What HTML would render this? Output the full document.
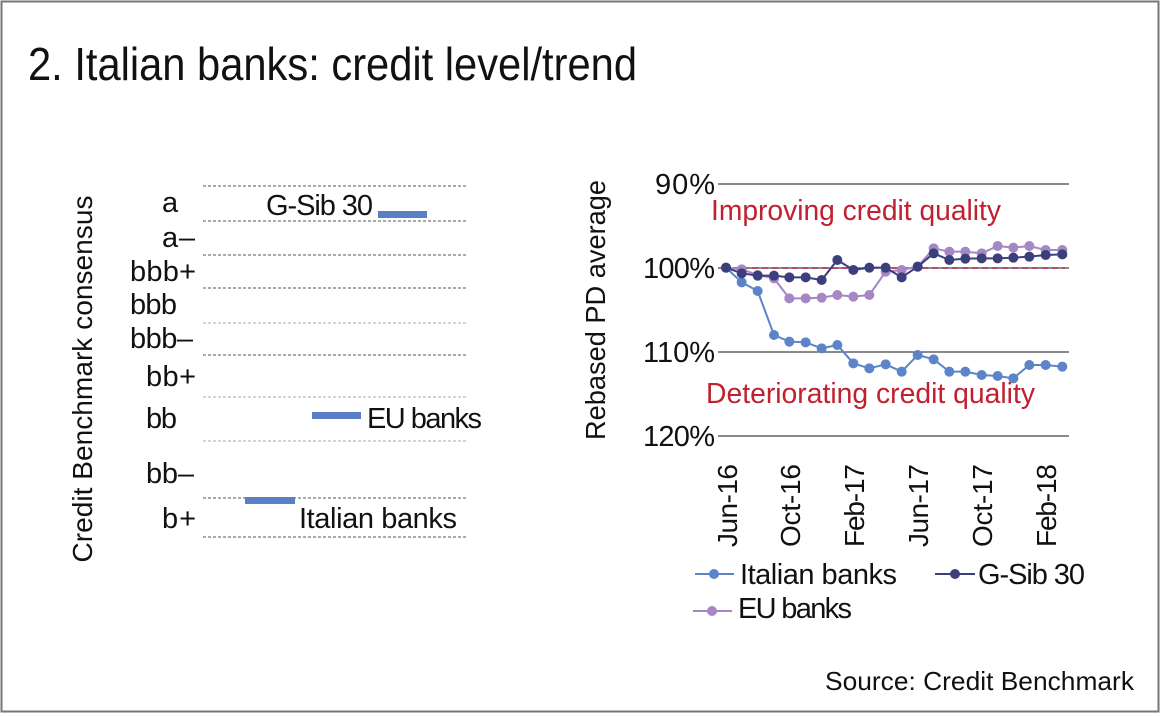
<!DOCTYPE html>
<html><head><meta charset="utf-8"><style>
html,body{margin:0;padding:0;background:#fff}
svg{display:block;font-family:"Liberation Sans",sans-serif}
</style></head><body>
<svg width="1160" height="716" viewBox="0 0 1160 716">
<rect x="1.5" y="1.5" width="1157" height="710" fill="#fff" stroke="#777" stroke-width="2"/>
<text x="28" y="80" font-size="46" fill="#111" textLength="609" lengthAdjust="spacingAndGlyphs">2. Italian banks: credit level/trend</text>

<g stroke="#555" stroke-width="1" stroke-dasharray="3,2">
<line x1="203" y1="186" x2="468" y2="186"/>
<line x1="203" y1="221" x2="468" y2="221"/>
<line x1="203" y1="255" x2="468" y2="255"/>
<line x1="203" y1="288" x2="468" y2="288"/>
<line x1="203" y1="323" x2="468" y2="323" stroke="#aaa"/>
<line x1="203" y1="355" x2="468" y2="355"/>
<line x1="203" y1="397" x2="468" y2="397" stroke="#aaa"/>
<line x1="203" y1="441" x2="468" y2="441" stroke="#aaa"/>
<line x1="203" y1="498" x2="468" y2="498"/>
<line x1="203" y1="537" x2="468" y2="537"/>
</g>
<g font-size="29" fill="#111" lengthAdjust="spacingAndGlyphs">
<text x="162" y="212" textLength="15">a</text>
<text x="162" y="247" textLength="33">a–</text>
<text x="130" y="281" textLength="66">bbb+</text>
<text x="130" y="314" textLength="47">bbb</text>
<text x="130" y="348" textLength="63">bbb–</text>
<text x="146" y="386" textLength="50">bb+</text>
<text x="146" y="428" textLength="31">bb</text>
<text x="146" y="483" textLength="48">bb–</text>
<text x="162" y="528" textLength="34">b+</text>
</g>
<text transform="translate(92,379) rotate(-90)" font-size="28" fill="#111" text-anchor="middle" textLength="367" lengthAdjust="spacingAndGlyphs">Credit Benchmark consensus</text>
<rect x="378" y="211" width="49" height="7" fill="#5b7fc4"/>
<rect x="312" y="412" width="49" height="7" fill="#5b7fc4"/>
<rect x="245" y="497" width="50" height="7" fill="#5b7fc4"/>
<g font-size="29" fill="#111" lengthAdjust="spacingAndGlyphs">
<text x="266" y="215" textLength="107">G-Sib 30</text>
<text x="367" y="428" textLength="115">EU banks</text>
<text x="299" y="528" textLength="158">Italian banks</text>
</g>

<g stroke="#444" stroke-width="1.3">
<line x1="718" y1="184" x2="1069" y2="184"/>
<line x1="718" y1="268" x2="1069" y2="268"/>
<line x1="718" y1="352" x2="1069" y2="352"/>
<line x1="718" y1="436" x2="1069" y2="436"/>
</g>
<line x1="722" y1="268" x2="1065" y2="268" stroke="#b01f4a" stroke-width="1.5" stroke-dasharray="6,4"/>
<g font-size="29" fill="#111" lengthAdjust="spacingAndGlyphs">
<text x="655" y="194" textLength="60">90%</text>
<text x="643" y="278" textLength="72">100%</text>
<text x="643" y="362" textLength="72">110%</text>
<text x="643" y="446" textLength="72">120%</text>
</g>
<text transform="translate(605,310) rotate(-90)" font-size="28" fill="#111" text-anchor="middle" textLength="260" lengthAdjust="spacingAndGlyphs">Rebased PD average</text>
<text x="711" y="220" font-size="29" fill="#c0202f" textLength="290" lengthAdjust="spacingAndGlyphs">Improving credit quality</text>
<text x="706" y="403" font-size="29" fill="#c0202f" textLength="329" lengthAdjust="spacingAndGlyphs">Deteriorating credit quality</text>

<g transform="translate(690,160) scale(0.33333)" fill="none" stroke-width="6">
<polyline stroke="#5b85c8" points="108,323 155,367 203,393 252,525 298,545 347,547 395,565 442,555 490,610 538,625 587,613 635,635 683,585 731,598 778,635 826,635 875,645 923,648 970,655 1018,615 1067,615 1117,620"/>
<g fill="#5b85c8"><circle cx="108" cy="323" r="15"/><circle cx="155" cy="367" r="15"/><circle cx="203" cy="393" r="15"/><circle cx="252" cy="525" r="15"/><circle cx="298" cy="545" r="15"/><circle cx="347" cy="547" r="15"/><circle cx="395" cy="565" r="15"/><circle cx="442" cy="555" r="15"/><circle cx="490" cy="610" r="15"/><circle cx="538" cy="625" r="15"/><circle cx="587" cy="613" r="15"/><circle cx="635" cy="635" r="15"/><circle cx="683" cy="585" r="15"/><circle cx="731" cy="598" r="15"/><circle cx="778" cy="635" r="15"/><circle cx="826" cy="635" r="15"/><circle cx="875" cy="645" r="15"/><circle cx="923" cy="648" r="15"/><circle cx="970" cy="655" r="15"/><circle cx="1018" cy="615" r="15"/><circle cx="1067" cy="615" r="15"/><circle cx="1117" cy="620" r="15"/></g>
<polyline stroke="#a587c6" points="108,323 155,328 203,345 252,355 298,415 347,415 395,413 442,405 490,410 538,405 587,335 635,330 683,320 731,265 778,275 826,275 875,280 923,258 970,263 1018,258 1067,270 1117,270"/>
<g fill="#a587c6"><circle cx="108" cy="323" r="15"/><circle cx="155" cy="328" r="15"/><circle cx="203" cy="345" r="15"/><circle cx="252" cy="355" r="15"/><circle cx="298" cy="415" r="15"/><circle cx="347" cy="415" r="15"/><circle cx="395" cy="413" r="15"/><circle cx="442" cy="405" r="15"/><circle cx="490" cy="410" r="15"/><circle cx="538" cy="405" r="15"/><circle cx="587" cy="335" r="15"/><circle cx="635" cy="330" r="15"/><circle cx="683" cy="320" r="15"/><circle cx="731" cy="265" r="15"/><circle cx="778" cy="275" r="15"/><circle cx="826" cy="275" r="15"/><circle cx="875" cy="280" r="15"/><circle cx="923" cy="258" r="15"/><circle cx="970" cy="263" r="15"/><circle cx="1018" cy="258" r="15"/><circle cx="1067" cy="270" r="15"/><circle cx="1117" cy="270" r="15"/></g>
<polyline stroke="#3b3f7c" points="108,323 155,340 203,347 252,347 298,352 347,352 395,360 442,300 490,330 538,323 587,323 635,352 683,320 731,280 778,300 826,296 875,295 923,295 970,293 1018,290 1067,285 1117,283"/>
<g fill="#3b3f7c"><circle cx="108" cy="323" r="15"/><circle cx="155" cy="340" r="15"/><circle cx="203" cy="347" r="15"/><circle cx="252" cy="347" r="15"/><circle cx="298" cy="352" r="15"/><circle cx="347" cy="352" r="15"/><circle cx="395" cy="360" r="15"/><circle cx="442" cy="300" r="15"/><circle cx="490" cy="330" r="15"/><circle cx="538" cy="323" r="15"/><circle cx="587" cy="323" r="15"/><circle cx="635" cy="352" r="15"/><circle cx="683" cy="320" r="15"/><circle cx="731" cy="280" r="15"/><circle cx="778" cy="300" r="15"/><circle cx="826" cy="296" r="15"/><circle cx="875" cy="295" r="15"/><circle cx="923" cy="295" r="15"/><circle cx="970" cy="293" r="15"/><circle cx="1018" cy="290" r="15"/><circle cx="1067" cy="285" r="15"/><circle cx="1117" cy="283" r="15"/></g>
</g>

<g font-size="28" fill="#111" lengthAdjust="spacingAndGlyphs">
<text transform="translate(737,547) rotate(-90)" textLength="83">Jun-16</text>
<text transform="translate(800,547) rotate(-90)" textLength="83">Oct-16</text>
<text transform="translate(864,547) rotate(-90)" textLength="83">Feb-17</text>
<text transform="translate(928,547) rotate(-90)" textLength="83">Jun-17</text>
<text transform="translate(992,547) rotate(-90)" textLength="83">Oct-17</text>
<text transform="translate(1056,547) rotate(-90)" textLength="83">Feb-18</text>
</g>

<line x1="695" y1="574" x2="734" y2="574" stroke="#5b85c8" stroke-width="2"/>
<circle cx="714" cy="574" r="5" fill="#5b85c8"/>
<line x1="935" y1="574" x2="975" y2="574" stroke="#3b3f7c" stroke-width="2"/>
<circle cx="955" cy="574" r="5" fill="#3b3f7c"/>
<line x1="693" y1="611" x2="732" y2="611" stroke="#a587c6" stroke-width="2"/>
<circle cx="712" cy="611" r="5" fill="#a587c6"/>
<g font-size="29" fill="#111" lengthAdjust="spacingAndGlyphs">
<text x="740" y="584" textLength="157">Italian banks</text>
<text x="978" y="584" textLength="107">G-Sib 30</text>
<text x="738" y="618" textLength="114">EU banks</text>
</g>

<text x="825" y="690" font-size="26" fill="#111" textLength="309" lengthAdjust="spacingAndGlyphs">Source: Credit Benchmark</text>
</svg>
</body></html>
